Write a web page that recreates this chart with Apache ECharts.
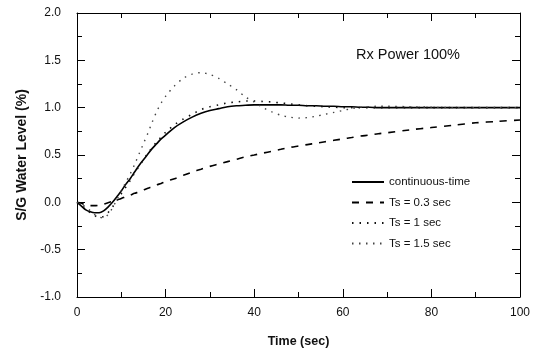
<!DOCTYPE html>
<html>
<head>
<meta charset="utf-8">
<script src="https://cdn.jsdelivr.net/npm/echarts@6/dist/echarts.min.js"></script>
<style>
  html, body { margin: 0; padding: 0; background: #fff; }
  #chart { width: 534px; height: 356px; }
</style>
</head>
<body>
<div id="chart"></div>
<script>
// time samples (sec)
var times = [0,1,2,3,4,5,6,7,8,9,10,11,12,13,14,15,16,17,18,19,20,
  22,24,26,28,30,32,34,36,38,40,42,44,46,48,50,52,54,56,58,60,
  62,64,66,68,70,75,80,85,90,95,100];

// S/G water level (%)
var contTime = [0,-0.04,-0.08,-0.10,-0.11,-0.11,-0.09,-0.05,0.0,0.06,0.12,0.19,0.25,0.32,0.39,0.45,0.51,0.57,0.62,0.67,0.71,
  0.79,0.85,0.90,0.94,0.97,0.99,1.01,1.02,1.025,1.03,1.03,1.03,1.03,1.025,1.025,1.02,1.02,1.015,1.015,1.01,
  1.01,1.005,1.005,1.0,1.0,1.0,1.0,1.0,1.0,1.0,1.0];

var ts03 = [0,-0.01,-0.03,-0.035,-0.035,-0.03,-0.02,-0.005,0.01,0.025,0.04,0.06,0.075,0.095,0.11,0.13,0.15,0.165,0.185,0.20,0.22,
  0.25,0.285,0.32,0.35,0.38,0.405,0.43,0.455,0.48,0.50,0.52,0.54,0.56,0.58,0.595,0.61,0.625,0.64,0.655,0.67,
  0.685,0.70,0.71,0.725,0.735,0.765,0.79,0.815,0.84,0.855,0.87];

var ts1 = [0,-0.03,-0.07,-0.11,-0.14,-0.16,-0.15,-0.11,-0.05,0.02,0.09,0.16,0.23,0.31,0.38,0.45,0.52,0.58,0.64,0.69,0.74,
  0.82,0.88,0.93,0.98,1.01,1.03,1.05,1.06,1.07,1.07,1.065,1.06,1.05,1.04,1.03,1.02,1.015,1.01,1.005,1.0,
  1.0,1.0,1.0,1.0,1.0,1.0,1.0,1.0,1.0,1.0,1.0];

var ts15 = [0,-0.02,-0.05,-0.09,-0.13,-0.155,-0.165,-0.13,-0.06,0.03,0.12,0.21,0.30,0.40,0.51,0.62,0.73,0.85,0.96,1.05,1.12,
  1.23,1.31,1.355,1.37,1.35,1.31,1.25,1.19,1.115,1.06,1.0,0.955,0.92,0.90,0.89,0.895,0.91,0.93,0.95,0.97,
  0.99,1.005,1.01,1.015,1.015,1.01,1.005,1.0,1.0,1.0,1.0];

var seriesNames = ['continuous-time', 'Ts = 0.3 sec', 'Ts = 1 sec', 'Ts = 1.5 sec'];

function pairs(vals) {
  return times.map(function (t, i) { return [t, vals[i]]; });
}

var font = 'Liberation Sans, Arial, sans-serif';

var xBase = {
  type: 'value', min: 0, max: 100, interval: 20,
  axisLine: { show: true, onZero: false, lineStyle: { color: '#000', width: 1 } },
  axisTick: { show: true, inside: true, length: 8, lineStyle: { color: '#000' } },
  minorTick: { show: true, splitNumber: 2, length: 5, lineStyle: { color: '#000' } },
  splitLine: { show: false }
};
var yBase = {
  type: 'value', min: -1, max: 2, interval: 0.5,
  axisLine: { show: true, onZero: false, lineStyle: { color: '#000', width: 1 } },
  axisTick: { show: true, inside: true, length: 8, lineStyle: { color: '#000' } },
  minorTick: { show: true, splitNumber: 2, length: 5, lineStyle: { color: '#000' } },
  splitLine: { show: false }
};

var option = {
  backgroundColor: '#fff',
  animation: false,
  title: {
    text: 'Rx Power 100%',
    left: 351, top: 42,
    textStyle: { fontFamily: font, fontSize: 14.5, fontWeight: 'normal', color: '#111' }
  },
  legend: {
    orient: 'vertical',
    left: 346, top: 171,
    itemWidth: 32, itemHeight: 12, itemGap: 8.5,
    data: seriesNames,
    itemStyle: { opacity: 0 },
    textStyle: { fontFamily: font, fontSize: 11.5, color: '#111' }
  },
  grid: { left: 77, right: 14, top: 13, bottom: 59 },
  xAxis: [
    Object.assign({}, xBase, {
      position: 'bottom',
      name: 'Time (sec)', nameLocation: 'middle', nameGap: 38,
      nameTextStyle: { fontFamily: font, fontSize: 12.5, fontWeight: 'bold', color: '#111' },
      axisLabel: { margin: 10, fontFamily: font, fontSize: 12, color: '#111' }
    }),
    Object.assign({}, xBase, { position: 'top', axisLabel: { show: false } })
  ],
  yAxis: [
    Object.assign({}, yBase, {
      position: 'left',
      name: 'S/G Water Level (%)', nameLocation: 'middle', nameGap: 48,
      nameTextStyle: { fontFamily: font, fontSize: 14, fontWeight: 'bold', color: '#111' },
      axisLabel: {
        margin: 16, fontFamily: font, fontSize: 12, color: '#111',
        formatter: function (v) { return v.toFixed(1); }
      }
    }),
    Object.assign({}, yBase, { position: 'right', axisLabel: { show: false } })
  ],
  series: [
    {
      name: seriesNames[0], type: 'line', smooth: 0.3, symbol: 'none',
      lineStyle: { color: '#000', width: 1.6 },
      itemStyle: { color: '#000' },
      data: pairs(contTime)
    },
    {
      name: seriesNames[1], type: 'line', smooth: 0.3, symbol: 'none',
      lineStyle: { color: '#000', width: 1.6, type: [7, 7] },
      itemStyle: { color: '#000' },
      data: pairs(ts03)
    },
    {
      name: seriesNames[2], type: 'line', smooth: 0.3, symbol: 'none',
      lineStyle: { color: '#111', width: 1.6, type: [1.5, 6] },
      itemStyle: { color: '#111' },
      data: pairs(ts1)
    },
    {
      name: seriesNames[3], type: 'line', smooth: 0.3, symbol: 'none',
      lineStyle: { color: '#444', width: 1.4, type: [1.5, 5.5] },
      itemStyle: { color: '#444' },
      data: pairs(ts15)
    }
  ]
};

var myChart = echarts.init(document.getElementById('chart'));
myChart.setOption(option);
</script>
</body>
</html>
